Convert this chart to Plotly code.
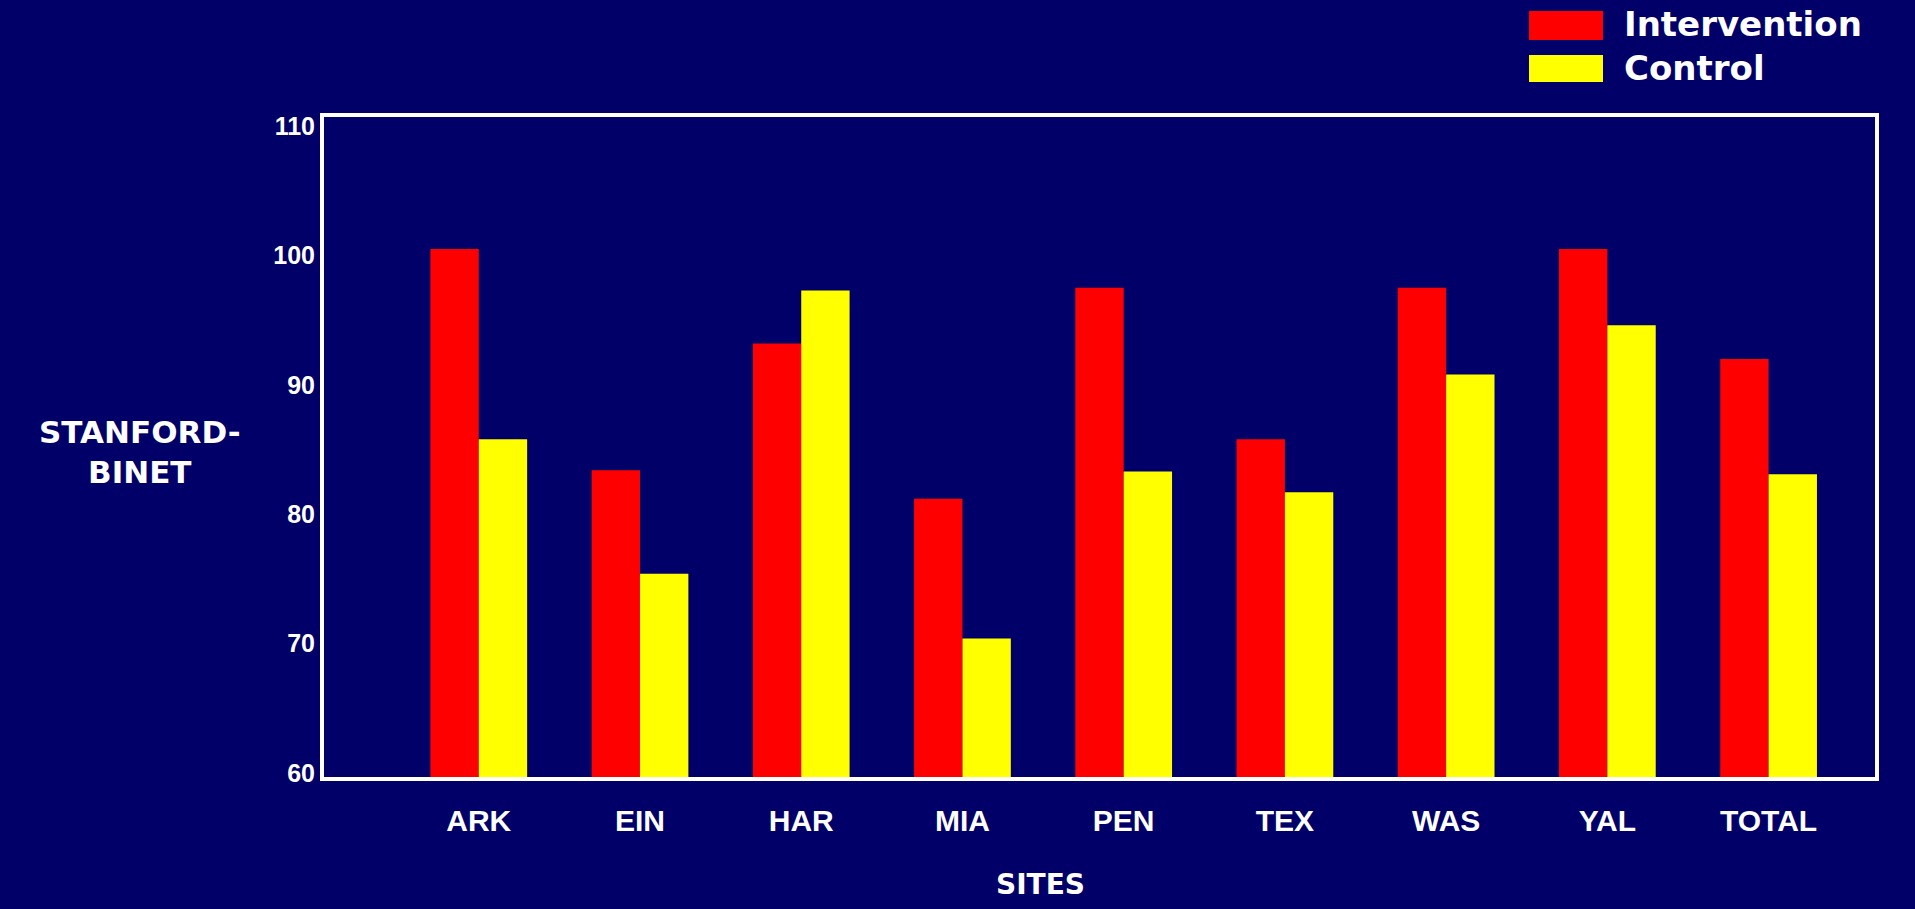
import plotly.graph_objects as go

sites = ["ARK", "EIN", "HAR", "MIA", "PEN", "TEX", "WAS", "YAL", "TOTAL"]
intervention = [100.5, 83.4, 93.2, 81.2, 97.5, 85.8, 97.5, 100.5, 92.0]
control = [85.8, 75.4, 97.3, 70.4, 83.3, 81.7, 90.8, 94.6, 83.1]
y_ticks = [60, 70, 80, 90, 100, 110]

BG = "#000068"
RED = "#FF0000"
YEL = "#FFFF00"
FONT = "Liberation Sans, Arial, sans-serif"

fig = go.Figure()
fig.add_trace(go.Bar(x=sites, y=intervention, name="Intervention",
                     marker=dict(color=RED, line=dict(width=0))))
fig.add_trace(go.Bar(x=sites, y=control, name="Control",
                     marker=dict(color=YEL, line=dict(width=0))))

W, H = 1915, 909
L, R, T, B = 324, 40, 117, 132
pw, ph = W - L - R, H - T - B

def px(x):
    return (x - L) / pw

def py(y):
    return (H - B - y) / ph

fig.update_layout(
    width=W, height=H,
    margin=dict(l=L, r=R, t=T, b=B),
    paper_bgcolor=BG, plot_bgcolor=BG,
    barmode="group", bargap=0.4, bargroupgap=0,
    showlegend=False,
    font=dict(family=FONT, color="white"),
    xaxis=dict(range=[-0.96, 8.66], showgrid=False, zeroline=False,
               showline=True, linecolor="white", linewidth=4, mirror=True,
               ticks="", ticklabelstandoff=14,
               tickfont=dict(family=FONT, size=30, color="white", weight="bold")),
    yaxis=dict(range=[59.7, 110.7], tickvals=y_ticks, showgrid=False, zeroline=False,
               showline=True, linecolor="white", linewidth=4, mirror=True,
               ticks="", ticklabelstandoff=0,
               tickfont=dict(family=FONT, size=25, color="white", weight="bold")),
)

# y-axis title
fig.add_annotation(xref="paper", yref="paper", x=px(140), y=py(452),
                   text="STANFORD-<br>BINET", showarrow=False, align="center",
                   xanchor="center", yanchor="middle",
                   font=dict(family="DejaVu Sans, sans-serif", size=31, color="white", weight="bold"))
# x-axis title
fig.add_annotation(xref="paper", yref="paper", x=px(1040), y=py(884),
                   text="SITES", showarrow=False, xanchor="center", yanchor="middle",
                   font=dict(family="DejaVu Sans, sans-serif", size=28, color="white", weight="bold"))

# legend
for (name, col, y0, y1, ty) in [("Intervention", RED, 11, 40, 24), ("Control", YEL, 55, 82, 68)]:
    fig.add_shape(type="rect", xref="paper", yref="paper",
                  x0=px(1529), x1=px(1603), y0=py(y1), y1=py(y0),
                  fillcolor=col, line=dict(width=0))
    fig.add_annotation(xref="paper", yref="paper", x=px(1622), y=py(ty),
                       text=name, showarrow=False, xanchor="left", yanchor="middle",
                       font=dict(family="DejaVu Sans, sans-serif", size=34, color="white", weight="bold"))

fig.write_html("out.html")
